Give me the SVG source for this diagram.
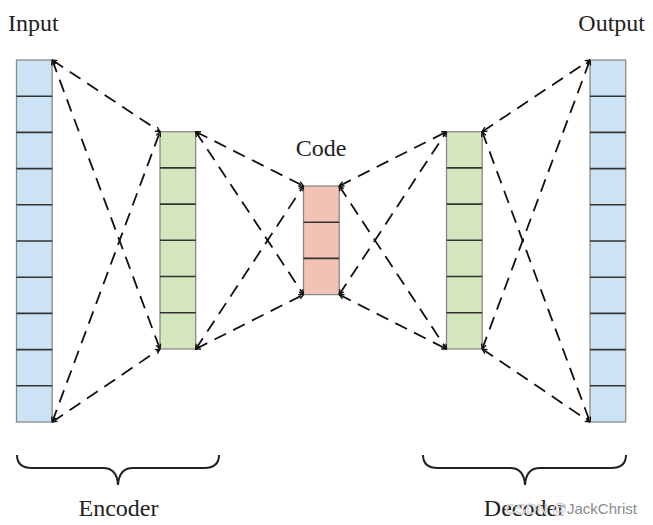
<svg xmlns="http://www.w3.org/2000/svg" width="653" height="525" viewBox="0 0 653 525">
<defs>
<style>
.lbl{font-family:"Liberation Serif",serif;font-size:24px;fill:#222}
.col{stroke:#8a8a8a;stroke-width:1.3}
.sep{stroke:#333;stroke-width:1.6}
.blue{fill:#cce2f5}
.green{fill:#d3e6bd}
.red{fill:#f2c3b5}
.dash{stroke:#111;stroke-width:1.8;stroke-dasharray:13 8;fill:none;marker-start:url(#ah);marker-end:url(#ah)}
.brace{fill:none;stroke:#222;stroke-width:2}
</style>
<marker id="ah" viewBox="0 0 10 10" refX="9" refY="5" markerWidth="6" markerHeight="6" markerUnits="userSpaceOnUse" orient="auto-start-reverse">
<path d="M1,1 L9,5 L1,9" fill="none" stroke="#111" stroke-width="2.2"/>
</marker>
</defs>
<rect width="653" height="525" fill="#fff"/>

<g id="input">
<rect class="col blue" x="16.5" y="60" width="35.7" height="362"/>
<path class="sep" d="M16.5,96.2H52.2M16.5,132.4H52.2M16.5,168.6H52.2M16.5,204.8H52.2M16.5,241H52.2M16.5,277.2H52.2M16.5,313.4H52.2M16.5,349.6H52.2M16.5,385.8H52.2"/>
<text class="lbl" x="8" y="31">Input</text>
</g>

<g id="encoder-hidden">
<rect class="col green" x="160" y="131.7" width="35.7" height="217.3"/>
<path class="sep" d="M160,167.9H195.7M160,204.1H195.7M160,240.3H195.7M160,276.5H195.7M160,312.7H195.7"/>
</g>

<g id="code">
<rect class="col red" x="303.5" y="186" width="35.7" height="108.6"/>
<path class="sep" d="M303.5,222.2H339.2M303.5,258.4H339.2"/>
<text class="lbl" x="321" y="156" text-anchor="middle">Code</text>
</g>

<g id="decoder-hidden">
<rect class="col green" x="446.5" y="131.7" width="35.7" height="217.3"/>
<path class="sep" d="M446.5,167.9H482.2M446.5,204.1H482.2M446.5,240.3H482.2M446.5,276.5H482.2M446.5,312.7H482.2"/>
</g>

<g id="output">
<rect class="col blue" x="590" y="60" width="35.7" height="362"/>
<path class="sep" d="M590,96.2H625.7M590,132.4H625.7M590,168.6H625.7M590,204.8H625.7M590,241H625.7M590,277.2H625.7M590,313.4H625.7M590,349.6H625.7M590,385.8H625.7"/>
<text class="lbl" x="645" y="31" text-anchor="end">Output</text>
</g>

<g id="connectors">
<line class="dash" x1="52.2" y1="60" x2="160" y2="131.7"/>
<line class="dash" x1="52.2" y1="60" x2="160" y2="349"/>
<line class="dash" x1="52.2" y1="422" x2="160" y2="131.7"/>
<line class="dash" x1="52.2" y1="422" x2="160" y2="349"/>
<line class="dash" x1="195.7" y1="131.7" x2="303.5" y2="186"/>
<line class="dash" x1="195.7" y1="131.7" x2="303.5" y2="294.6"/>
<line class="dash" x1="195.7" y1="349" x2="303.5" y2="186"/>
<line class="dash" x1="195.7" y1="349" x2="303.5" y2="294.6"/>
<line class="dash" x1="339.2" y1="186" x2="446.5" y2="131.7"/>
<line class="dash" x1="339.2" y1="186" x2="446.5" y2="349"/>
<line class="dash" x1="339.2" y1="294.6" x2="446.5" y2="131.7"/>
<line class="dash" x1="339.2" y1="294.6" x2="446.5" y2="349"/>
<line class="dash" x1="482.2" y1="131.7" x2="590" y2="60"/>
<line class="dash" x1="482.2" y1="131.7" x2="590" y2="422"/>
<line class="dash" x1="482.2" y1="349" x2="590" y2="60"/>
<line class="dash" x1="482.2" y1="349" x2="590" y2="422"/>
</g>

<g id="encoder-brace">
<path class="brace" d="M17,455 Q17,468 32,468 L103,468 Q117,468 118,485 Q119,468 133,468 L204,468 Q219,468 219,455"/>
<text class="lbl" x="118.5" y="516" text-anchor="middle">Encoder</text>
</g>

<g id="decoder-brace">
<path class="brace" d="M423,455 Q423,468 438,468 L510,468 Q524,468 525,485 Q526,468 540,468 L611,468 Q626,468 626,455"/>
<text class="lbl" x="524.5" y="516" text-anchor="middle">Decoder</text>
</g>

<text x="637" y="514" text-anchor="end" font-family="Liberation Sans,sans-serif" font-size="15"><tspan fill="#e6e6e6" stroke="#bbb" stroke-width="0.3">CSDN @</tspan><tspan fill="#8a8a8a">JackChrist</tspan></text>
</svg>
